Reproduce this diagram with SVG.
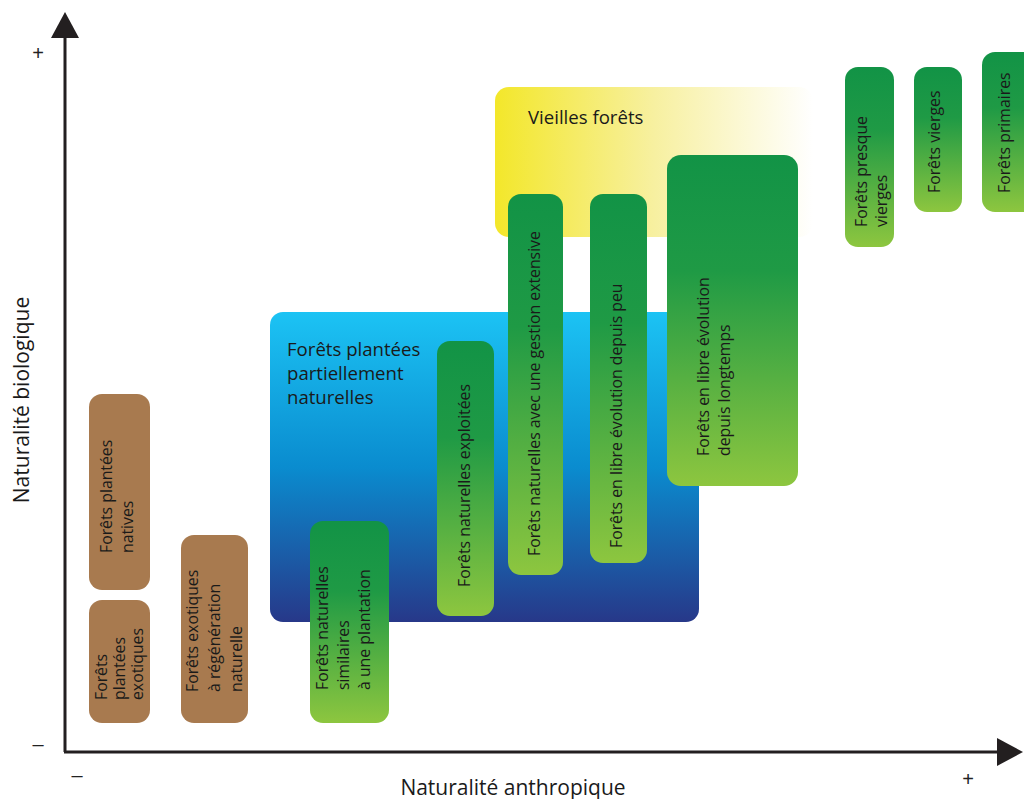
<svg xmlns="http://www.w3.org/2000/svg" width="1024" height="799" viewBox="0 0 1024 799">
<defs>
<linearGradient id="gGreen" x1="0" y1="0" x2="0" y2="1">
<stop offset="0" stop-color="#129346"/>
<stop offset="0.35" stop-color="#1f9a45"/>
<stop offset="1" stop-color="#8dc63f"/>
</linearGradient>
<linearGradient id="gBlue" x1="0" y1="0" x2="0" y2="1">
<stop offset="0" stop-color="#1cc3f4"/>
<stop offset="0.5" stop-color="#0a8ccf"/>
<stop offset="1" stop-color="#273889"/>
</linearGradient>
<linearGradient id="gYellow" x1="0" y1="0" x2="1" y2="0">
<stop offset="0" stop-color="#f3e72a"/>
<stop offset="0.5" stop-color="#f7f0a0"/>
<stop offset="1" stop-color="#ffffff"/>
</linearGradient>
<style>
.lbl{font-family:"Open Sans","Liberation Sans",sans-serif;font-size:15.8px;fill:#1a1a1a}
.big{font-family:"Open Sans","Liberation Sans",sans-serif;font-size:18.6px;fill:#1a1a1a}
.ax{font-family:"Open Sans","Liberation Sans",sans-serif;font-size:21px;fill:#1a1a1a}
.pm{font-family:"Liberation Sans",sans-serif;font-size:20px;fill:#222222}
.brown{fill:#a87a4f}
.green{fill:url(#gGreen)}
</style>
</defs>
<rect width="1024" height="799" fill="#ffffff"/>

<g id="axes">
<line x1="65" y1="36" x2="65" y2="752" stroke="#231f20" stroke-width="3"/>
<line x1="64" y1="752" x2="999" y2="752" stroke="#231f20" stroke-width="3"/>
<polygon points="65,12 51,38 79,38" fill="#231f20"/>
<polygon points="1023,752 997,738 997,766" fill="#231f20"/>
<text class="pm" x="38" y="60" text-anchor="middle">+</text>
<text class="pm" x="38" y="751" text-anchor="middle">–</text>
<text class="pm" x="77" y="782" text-anchor="middle">–</text>
<text class="pm" x="968" y="786" text-anchor="middle">+</text>
<text class="ax" x="513" y="795" text-anchor="middle">Naturalité anthropique</text>
<text class="ax" transform="translate(29,400) rotate(-90)" text-anchor="middle">Naturalité biologique</text>
</g>

<g id="vieilles-forets">
<rect x="495" y="87" width="318" height="150" rx="14" fill="url(#gYellow)"/>
<text class="big" x="528" y="124">Vieilles forêts</text>
</g>

<g id="plantees-partiellement">
<rect x="270" y="312" width="429" height="310" rx="13" fill="url(#gBlue)"/>
<text class="big" x="287" y="356">Forêts plantées</text>
<text class="big" x="287" y="380">partiellement</text>
<text class="big" x="287" y="404">naturelles</text>
</g>

<g id="plantees-natives">
<rect class="brown" x="89" y="394" width="61" height="196" rx="13"/>
<text class="lbl" transform="translate(112,553) rotate(-90)"><tspan x="0" y="0">Forêts plantées</tspan><tspan x="0" dy="21">natives</tspan></text>
</g>

<g id="plantees-exotiques">
<rect class="brown" x="89" y="600" width="61" height="123" rx="13"/>
<text class="lbl" transform="translate(107,700) rotate(-90)"><tspan x="0" y="0">Forêts</tspan><tspan x="0" dy="18">plantées</tspan><tspan x="0" dy="18">exotiques</tspan></text>
</g>

<g id="exotiques-regeneration">
<rect class="brown" x="181" y="535" width="67" height="188" rx="13"/>
<text class="lbl" transform="translate(198,692) rotate(-90)"><tspan x="0" y="0">Forêts exotiques</tspan><tspan x="0" dy="22">à régénération</tspan><tspan x="0" dy="22">naturelle</tspan></text>
</g>

<g id="naturelles-similaires">
<rect class="green" x="310" y="521" width="79" height="202" rx="13"/>
<text class="lbl" transform="translate(328,690) rotate(-90)"><tspan x="0" y="0">Forêts naturelles</tspan><tspan x="0" dy="21">similaires</tspan><tspan x="0" dy="21">à une plantation</tspan></text>
</g>

<g id="naturelles-exploitees">
<rect class="green" x="437" y="341" width="57" height="275" rx="13"/>
<text class="lbl" transform="translate(470,587) rotate(-90)">Forêts naturelles exploitées</text>
</g>

<g id="gestion-extensive">
<rect class="green" x="508" y="194" width="55" height="381" rx="13"/>
<text class="lbl" transform="translate(540,556) rotate(-90)">Forêts naturelles avec une gestion extensive</text>
</g>

<g id="libre-evolution-peu">
<rect class="green" x="590" y="194" width="57" height="369" rx="13"/>
<text class="lbl" transform="translate(622,548) rotate(-90)">Forêts en libre évolution depuis peu</text>
</g>

<g id="libre-evolution-longtemps">
<rect class="green" x="667" y="155" width="131" height="331" rx="14"/>
<text class="lbl" transform="translate(709,456) rotate(-90)"><tspan x="0" y="0">Forêts en libre évolution</tspan><tspan x="0" dy="21">depuis longtemps</tspan></text>
</g>

<g id="presque-vierges">
<rect class="green" x="845" y="67" width="49" height="180" rx="13"/>
<text class="lbl" transform="translate(867,227) rotate(-90)"><tspan x="0" y="0">Forêts presque</tspan><tspan x="0" dy="20">vierges</tspan></text>
</g>

<g id="vierges">
<rect class="green" x="914" y="67" width="48" height="145" rx="13"/>
<text class="lbl" transform="translate(940,193) rotate(-90)">Forêts vierges</text>
</g>

<g id="primaires">
<rect class="green" x="982" y="52" width="56" height="160" rx="13"/>
<text class="lbl" transform="translate(1010,193) rotate(-90)">Forêts primaires</text>
</g>

<g id="connectors"></g>
</svg>
